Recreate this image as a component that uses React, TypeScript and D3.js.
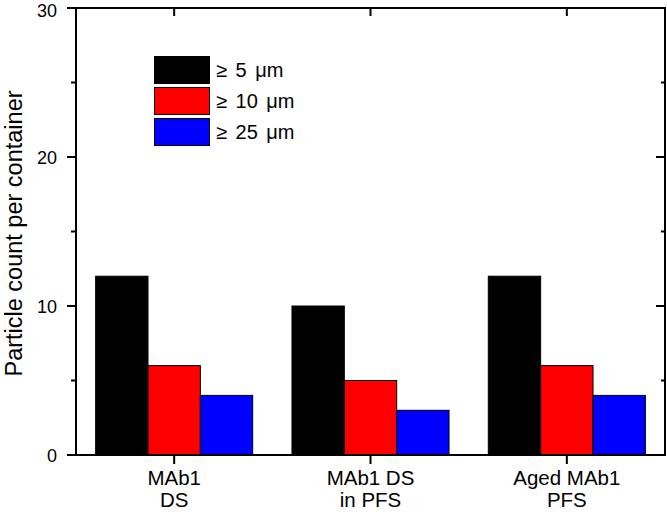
import React from "react";
import * as d3 from "d3";

const categories = [["MAb1", "DS"], ["MAb1 DS", "in PFS"], ["Aged MAb1", "PFS"]];
const seriesNames = ["≥ 5 μm", "≥ 10 μm", "≥ 25 μm"];
const seriesColors = ["#000000", "#ff0000", "#0000ff"];
const ge5 = [12, 10, 12];
const ge10 = [6, 5, 6];
const ge25 = [4, 3, 4];
const majorTicks = [0, 10, 20, 30];
const minorTicks = [5, 15, 25];

const W = 667, H = 512;
const left = 76, right = 665, top = 8, bottom = 455;
const FONT = "'Liberation Sans', Arial, sans-serif";

export default function App() {
  const series = [ge5, ge10, ge25];
  const keys = categories.map((c) => c.join(" "));
  const x0 = d3.scaleBand().domain(keys).range([left, right]).paddingInner(0.2).paddingOuter(0.1);
  const x1 = d3.scaleBand().domain(seriesNames).range([0, x0.bandwidth()]);
  const y = d3.scaleLinear().domain([0, 30]).range([bottom, top]);
  const centers = keys.map((k) => (x0(k) as number) + x0.bandwidth() / 2);

  return (
    <svg width={W} height={H} style={{ position: "absolute", left: 0, top: 0, background: "#fff" }} fontFamily={FONT}>
      <rect x={0} y={0} width={W} height={H} fill="#fff" />
      {/* bars */}
      {keys.map((k, ci) =>
        seriesNames.map((s, si) => (
          <rect
            key={k + s}
            x={(x0(k) as number) + (x1(s) as number)}
            y={y(series[si][ci])}
            width={x1.bandwidth()}
            height={y(0) - y(series[si][ci])}
            fill={seriesColors[si]}
            stroke="#000"
            strokeWidth={1}
          />
        ))
      )}
      {/* frame */}
      <rect x={left} y={top} width={right - left} height={bottom - top} fill="none" stroke="#000" strokeWidth={2} />
      {/* y ticks */}
      {majorTicks.map((t) => (
        <g key={"maj" + t}>
          <line x1={left - 9} x2={left} y1={y(t)} y2={y(t)} stroke="#000" strokeWidth={2} />
          <line x1={right - 9} x2={right} y1={y(t)} y2={y(t)} stroke="#000" strokeWidth={2} />
          <text x={57} y={t === 30 ? y(t) + 8.5 : y(t) + 6.5} textAnchor="end" fontSize={18}>{t}</text>
        </g>
      ))}
      {minorTicks.map((t) => (
        <g key={"min" + t}>
          <line x1={left - 5} x2={left} y1={y(t)} y2={y(t)} stroke="#000" strokeWidth={2} />
          <line x1={right - 4} x2={right} y1={y(t)} y2={y(t)} stroke="#000" strokeWidth={2} />
        </g>
      ))}
      {/* x ticks */}
      {centers.map((c, i) => (
        <g key={"xt" + i}>
          <line x1={c} x2={c} y1={bottom} y2={bottom + 9} stroke="#000" strokeWidth={2} />
          <line x1={c} x2={c} y1={top} y2={top + 8} stroke="#000" strokeWidth={2} />
          <text x={c} y={485} textAnchor="middle" fontSize={20.5}>{categories[i][0]}</text>
          <text x={c} y={507} textAnchor="middle" fontSize={20.5}>{categories[i][1]}</text>
        </g>
      ))}
      {/* y title */}
      <text transform={`translate(22,${(top + bottom) / 2 + 2}) rotate(-90)`} textAnchor="middle" fontSize={23.5}>
        Particle count per container
      </text>
      {/* legend */}
      {seriesNames.map((s, i) => (
        <g key={"lg" + s}>
          <rect x={154.5} y={56.5 + i * 31} width={55} height={27} fill={seriesColors[i]} stroke="#000" strokeWidth={1} />
          <text x={216} y={70 + i * 31} dy="0.36em" fontSize={20} wordSpacing={3}>{s}</text>
        </g>
      ))}
    </svg>
  );
}
